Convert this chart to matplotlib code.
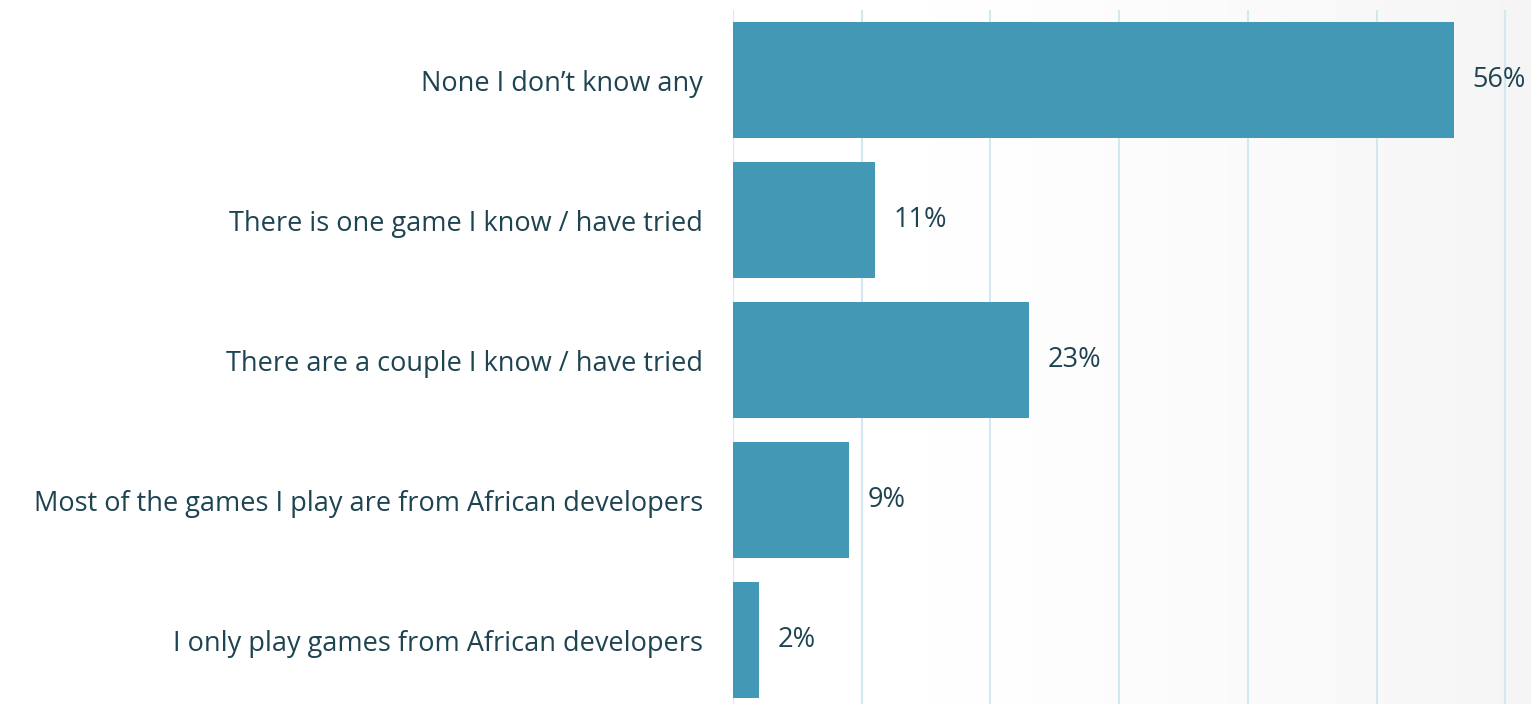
import numpy as np
import matplotlib.pyplot as plt

labels = [
    "None I don\u2019t know any",
    "There is one game I know / have tried",
    "There are a couple I know / have tried",
    "Most of the games I play are from African developers",
    "I only play games from African developers",
]
values = [56, 11, 23, 9, 2]

bar_color = "#4398b6"
text_color = "#1e4452"
grid_color = "#d2e7ef"

plt.rcParams['font.family'] = ['Open Sans', 'DejaVu Sans']

fig = plt.figure(figsize=(15.31, 7.04), dpi=100)

# soft grey wash on the right side of the page
bg = fig.add_axes([0, 0, 1, 1], zorder=-1)
grad = np.linspace(0, 1, 400)
grad = np.clip((grad - 0.55) / 0.45, 0, 1) ** 1.5
bg.imshow(np.tile(grad, (10, 1)), cmap="Greys", vmin=0, vmax=12,
          aspect="auto", extent=[0, 1, 0, 1])
bg.axis("off")

ax = fig.add_axes([733 / 1531, -6 / 704, (1531 - 733) / 1531, 700 / 704])
ax.patch.set_alpha(0)

y = np.arange(len(labels))
ax.barh(y, values, height=0.83, color=bar_color, zorder=2)

for yi, v in zip(y, values):
    ax.annotate(f"{v}%", (v, yi), xytext=(13.5, 0), textcoords="offset points",
                va="center", ha="left", fontsize=19.5, color=text_color)

ax.set_xlim(0, 62)
ax.set_ylim(len(labels) - 0.5, -0.5)
ax.set_xticks(np.arange(0, 61, 10))
ax.xaxis.grid(True, color=grid_color, linewidth=1.5, zorder=0)
ax.tick_params(axis="x", length=0, labelbottom=False)
ax.tick_params(axis="y", length=0, pad=21.5)
ax.set_yticks(y)
ax.set_yticklabels(labels, fontsize=19.5, color=text_color)
for s in ax.spines.values():
    s.set_visible(False)

fig.savefig("out.png", dpi=100)
